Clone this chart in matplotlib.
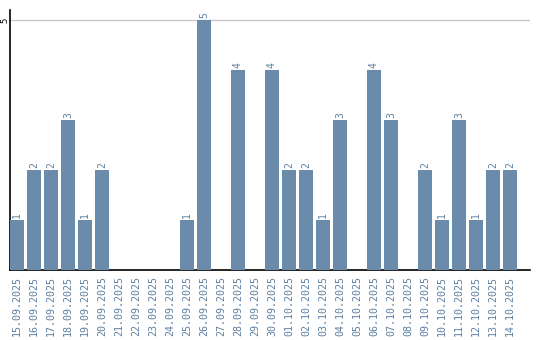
import matplotlib
matplotlib.use("Agg")
import matplotlib.pyplot as plt
import numpy as np

# ── Data ─────────────────────────────────────────────────────────────────────
dates = [
    "15.09.2025", "16.09.2025", "17.09.2025", "18.09.2025", "19.09.2025",
    "20.09.2025", "21.09.2025", "22.09.2025", "23.09.2025", "24.09.2025",
    "25.09.2025", "26.09.2025", "27.09.2025", "28.09.2025", "29.09.2025",
    "30.09.2025", "01.10.2025", "02.10.2025", "03.10.2025", "04.10.2025",
    "05.10.2025", "06.10.2025", "07.10.2025", "08.10.2025", "09.10.2025",
    "10.10.2025", "11.10.2025", "12.10.2025", "13.10.2025", "14.10.2025",
]
counts = [1, 2, 2, 3, 1, 2, 0, 0, 0, 0,
          1, 5, 0, 4, 0, 4, 2, 2, 1, 3,
          0, 4, 3, 0, 2, 1, 3, 1, 2, 2]

C_BAR = "#6a8caa"
C_TXT = "#5d7fa0"

fig = plt.figure(figsize=(5.4, 3.4), dpi=100)
ax = fig.add_axes([10 / 540, 70 / 340, 520 / 540, 260 / 340])

x = np.arange(len(dates))
bars = ax.bar(x, counts, width=0.82, color=C_BAR, zorder=3)

for bar, v in zip(bars, counts):
    if v > 0:
        ax.text(bar.get_x() + bar.get_width() / 2, v + 0.05, str(v),
                rotation=90, ha="center", va="bottom", fontsize=7,
                family="DejaVu Sans Mono", color=C_TXT)

ax.set_xlim(-0.41, 30.18)
ax.set_ylim(0, 5.2)
ax.set_xticks(x)
ax.set_xticklabels(dates, rotation=90, fontsize=7.2, family="DejaVu Sans Mono",
                   color=C_TXT)
ax.set_yticks([5])
ax.set_yticklabels(["5"], rotation=90, fontsize=6.5, family="DejaVu Sans Mono",
                   va="center")
ax.tick_params(axis="x", length=0, pad=4)
ax.tick_params(axis="y", length=0, pad=0.5)

ax.axhline(5, color="#c8c8c8", linewidth=1, zorder=1)
for s in ["top", "right"]:
    ax.spines[s].set_visible(False)
ax.spines["left"].set_linewidth(1.2)
ax.spines["bottom"].set_linewidth(1.2)

fig.savefig("out.png", dpi=100)
